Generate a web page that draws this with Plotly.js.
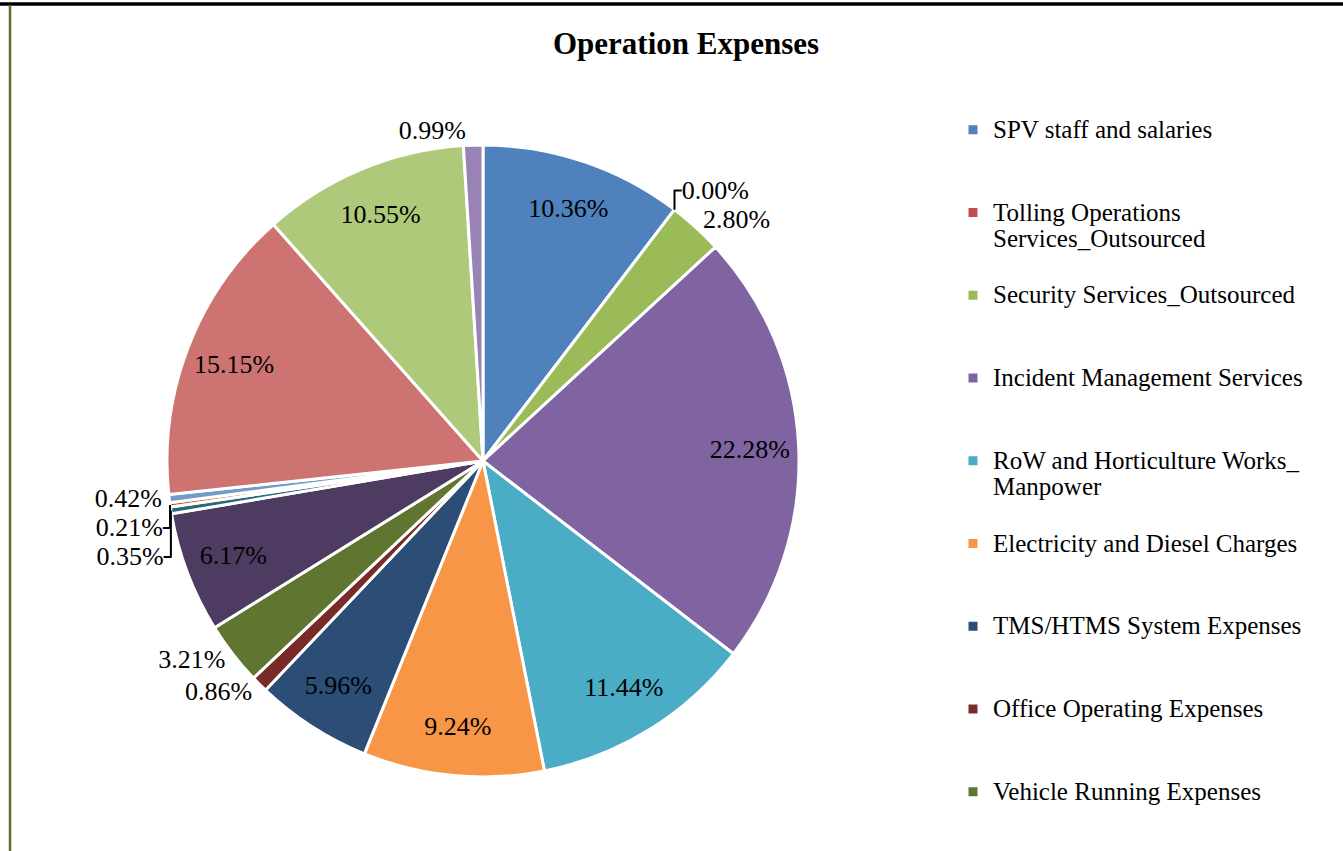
<!DOCTYPE html>
<html>
<head>
<meta charset="utf-8">
<script src="https://cdn.plot.ly/plotly-3.0.1.min.js"></script>
<style>
  html, body { margin: 0; padding: 0; background: #ffffff; }
  #chart { width: 1343px; height: 851px; }
</style>
</head>
<body>
<div id="chart"></div>
<script>
// ---------------- data ----------------
// Category names as wrapped in the legend ("\n" = legend line break).
const categoryNames = [
  'SPV staff and salaries',
  'Tolling Operations\nServices_Outsourced',
  'Security Services_Outsourced',
  'Incident Management Services',
  'RoW and Horticulture Works_\nManpower',
  'Electricity and Diesel Charges',
  'TMS/HTMS System Expenses',
  'Office Operating Expenses',
  'Vehicle Running Expenses',
  'Item 10', 'Item 11', 'Item 12', 'Item 13', 'Item 14', 'Item 15', 'Item 16'
];
// Share of operation expenses (%), clockwise from 12 o'clock
const shares = [10.36, 0.00, 2.80, 22.28, 11.44, 9.24, 5.96, 0.86, 3.21,
                6.17, 0.35, 0.21, 0.42, 15.15, 10.55, 0.99];
// Excel 2010 Office palette
const sliceColors = ['#4F81BD', '#C0504D', '#9BBB59', '#8064A2', '#4BACC6', '#F79646',
                     '#2C4D75', '#772C2A', '#5F7530', '#4D3B62', '#276A7C', '#B65708',
                     '#729ACA', '#CD7371', '#AFC97A', '#9983B5'];
// Number of categories visible in the (truncated) legend
const legendVisibleCount = 9;

// ---------------- layout helpers ----------------
const W = 1343, H = 851;
const M = { l: 167, t: 80, r: 1343 - 799, b: 0 };
const PW = W - M.l - M.r, PH = H - M.t - M.b;
const px2x = p => (p - M.l) / PW;
const px2y = p => 1 - (p - M.t) / PH;
// pie box in pixels
const PIE_TOP = 145, PIE_BOTTOM = 777;
const pieDomain = { x: [0, 1], y: [px2y(PIE_BOTTOM), px2y(PIE_TOP)] };

const FONT = 'Liberation Serif, Times New Roman, serif';
const LEGEND_FONT_SIZE = 20.45;          // 3 lines of this size = one legend slot
const LEGEND_SLOT = 3 * LEGEND_FONT_SIZE * 1.3 + 3;
const LEGEND_TOP = 110, LEGEND_LEFT = 953, PER_LEGEND = 3;

const labelsFull = categoryNames.map(s => s.replace('\n', ' '));
const textPositions = shares.map(v => (v < 4 ? 'outside' : 'inside'));

const legendLabels = categoryNames.slice(0, legendVisibleCount).map(s => {
  const lines = s.split('\n');
  while (lines.length < 3) lines.push(' ');
  return lines.map(l => (l.trim() ? '<span style="font-size:25px">' + l + '</span>' : ' ')).join('<br>');
});

// the pie itself
const mainPie = {
  type: 'pie',
  labels: labelsFull,
  values: shares,
  sort: false,
  direction: 'clockwise',
  rotation: 0,
  domain: pieDomain,
  marker: { colors: sliceColors, line: { color: '#ffffff', width: 3 } },
  textinfo: 'none',
  showlegend: false,
  hoverinfo: 'label+value',
  automargin: false
};

// data labels: same slices as a transparent ring so inside labels sit near the rim
const labelRing = {
  type: 'pie',
  labels: labelsFull,
  values: shares,
  sort: false,
  direction: 'clockwise',
  rotation: 0,
  hole: 0.69,
  domain: pieDomain,
  marker: { colors: shares.map(() => 'rgba(0,0,0,0)'), line: { width: 0 } },
  texttemplate: '%{value:.2f}%',
  textposition: textPositions,
  insidetextorientation: 'horizontal',
  insidetextfont: { family: FONT, size: 26, color: '#000000' },
  outsidetextfont: { family: FONT, size: 26, color: '#000000' },
  showlegend: false,
  hoverinfo: 'skip',
  automargin: false
};

// legend-only helper pies (tiny, hidden under the main pie), split over stacked legends
const legendPies = [];
const legendLayouts = {};
const cy = px2y(461);
for (let k = 0; k * PER_LEGEND < legendVisibleCount; k++) {
  const a = k * PER_LEGEND, b = Math.min(legendVisibleCount, a + PER_LEGEND);
  const name = k === 0 ? 'legend' : 'legend' + (k + 1);
  legendPies.push({
    type: 'pie',
    legend: name,
    labels: legendLabels.slice(a, b),
    values: shares.slice(a, b),
    sort: false,
    direction: 'clockwise',
    marker: { colors: sliceColors.slice(a, b), line: { color: '#ffffff', width: 3 } },
    textinfo: 'none',
    domain: { x: [0.4999, 0.5001], y: [cy - 0.0001, cy + 0.0001] },
    showlegend: true,
    hoverinfo: 'skip'
  });
  legendLayouts[name] = {
    x: LEGEND_LEFT / W, xref: 'container', xanchor: 'left',
    y: 1 - (LEGEND_TOP + k * PER_LEGEND * LEGEND_SLOT) / H, yref: 'container', yanchor: 'top',
    font: { family: FONT, size: LEGEND_FONT_SIZE, color: '#000000' },
    valign: 'top',
    bgcolor: 'rgba(0,0,0,0)',
    borderwidth: 0,
    traceorder: 'normal'
  };
}

const layout = Object.assign({
  width: W, height: H,
  margin: M,
  paper_bgcolor: '#ffffff',
  plot_bgcolor: '#ffffff',
  font: { family: FONT, color: '#000000' },
  title: {
    text: '<b>Operation Expenses</b>',
    font: { family: FONT, size: 31, color: '#000000' },
    x: 686 / W, xref: 'container', xanchor: 'center',
    y: 1 - 43 / H, yref: 'container', yanchor: 'middle'
  },
  shapes: [
    { type: 'line', xref: 'paper', yref: 'paper',
      x0: px2x(0), x1: px2x(W), y0: px2y(4), y1: px2y(4),
      line: { color: '#000000', width: 3.5 } },
    { type: 'line', xref: 'paper', yref: 'paper',
      x0: px2x(10), x1: px2x(10), y0: px2y(5), y1: px2y(H),
      line: { color: '#5C7030', width: 2.5 } }
  ]
}, legendLayouts);

Plotly.newPlot('chart', legendPies.concat([mainPie, labelRing]), layout,
  { displayModeBar: false, staticPlot: true });
</script>
</body>
</html>
